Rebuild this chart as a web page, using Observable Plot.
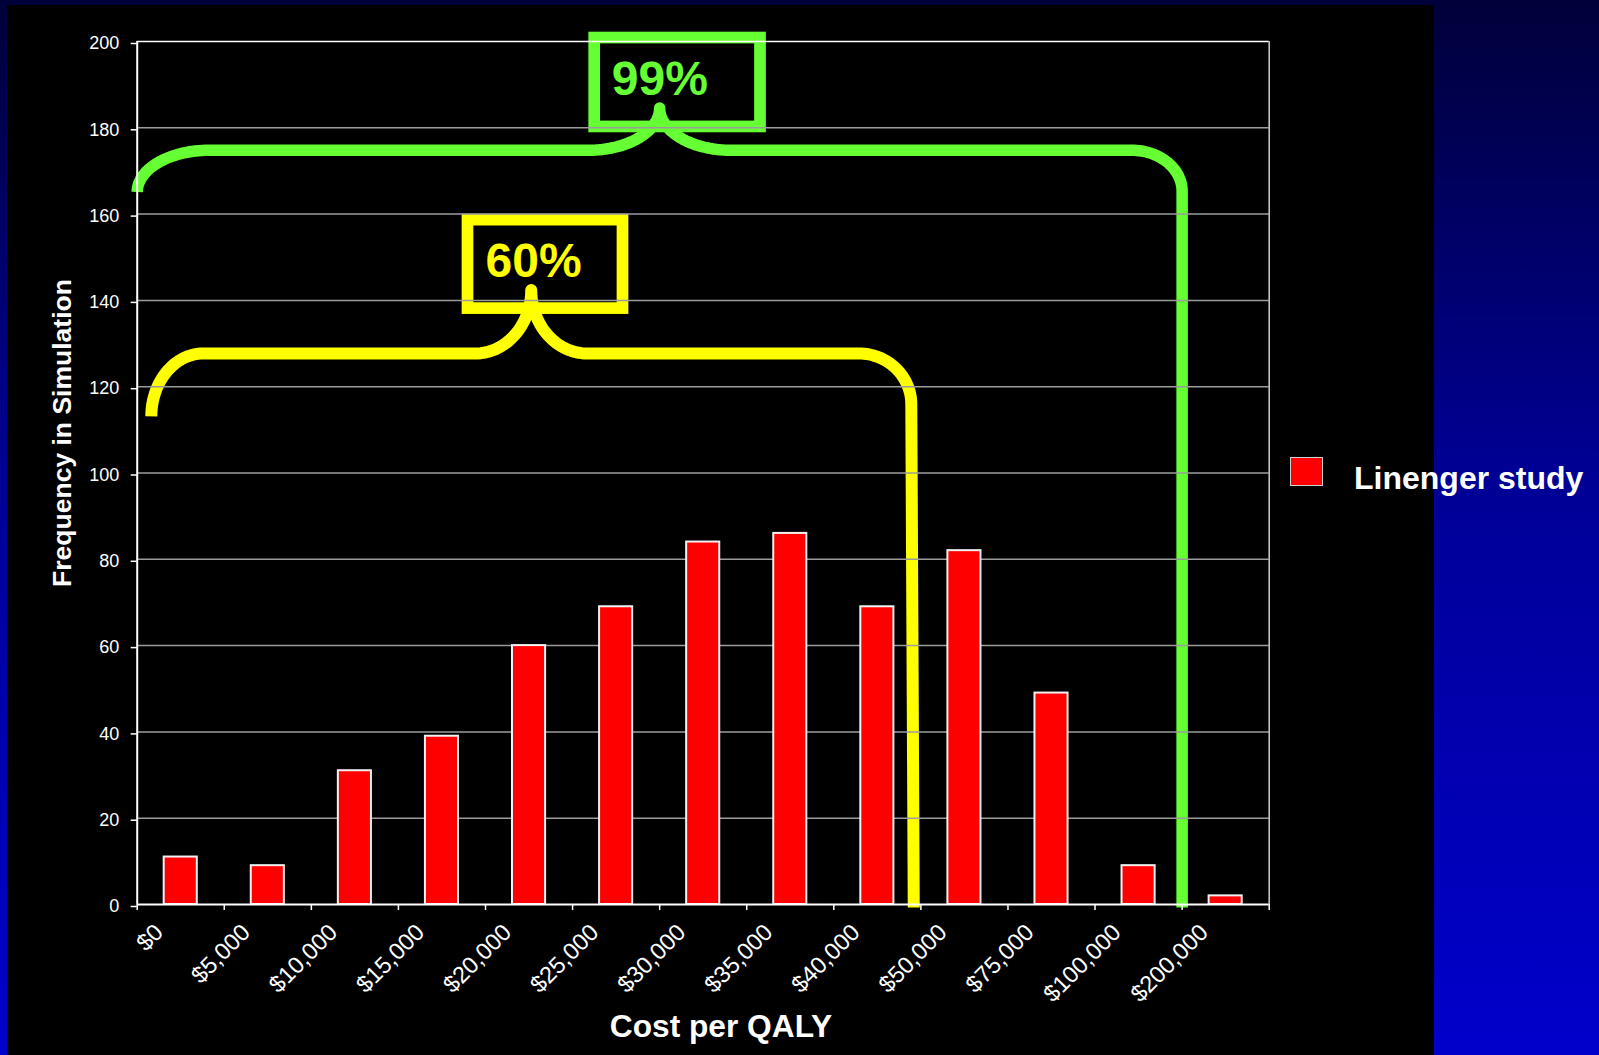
<!DOCTYPE html>
<html>
<head>
<meta charset="utf-8">
<title>Cost per QALY – Linenger study</title>
<script src="https://cdn.jsdelivr.net/npm/d3@7"></script>
<script src="https://cdn.jsdelivr.net/npm/@observablehq/plot@0.6"></script>
<style>
  html, body { margin: 0; padding: 0; }
  body {
    width: 1599px; height: 1055px; position: relative; overflow: hidden;
    background: linear-gradient(to bottom, #00003a 0%, #000095 45%, #0000cc 100%);
    font-family: "Liberation Sans", Arial, sans-serif; color: #fff;
  }
  #panel { position: absolute; left: 7px; top: 5px; width: 1427px; height: 1050px; background: #000; }
  #chart { position: absolute; left: 0; top: 0; }
  .title { position: absolute; font-weight: bold; white-space: nowrap; }
  #x-title { left: 721px; top: 1011px; font-size: 31.7px; line-height: 31.7px; transform: translateX(-50%); }
  #y-title { left: 62px; top: 433px; font-size: 26.5px; line-height: 26.5px; transform: translate(-50%, -50%) rotate(-90deg); }
  #legend-swatch { position: absolute; left: 1290px; top: 457px; width: 31px; height: 27px; background: #ff0000; border: 1px solid #d0d0d0; }
  #legend-label { position: absolute; left: 1354px; top: 462px; font-size: 32px; line-height: 32px; font-weight: bold; white-space: nowrap; }
</style>
</head>
<body>
<div id="panel"></div>
<div id="chart"></div>
<div id="x-title" class="title"></div>
<div id="y-title" class="title"></div>
<div id="legend-swatch"></div>
<div id="legend-label"></div>
<script>
// Cost-per-QALY bins and how many simulation runs fell in each
const categories = ["$0", "$5,000", "$10,000", "$15,000", "$20,000", "$25,000", "$30,000",
  "$35,000", "$40,000", "$50,000", "$75,000", "$100,000", "$200,000"];
const frequencies = [11, 9, 31, 39, 60, 69, 84, 86, 69, 82, 49, 9, 2];
const yTicks = [0, 20, 40, 60, 80, 100, 120, 140, 160, 180, 200];
const seriesName = "Linenger study";
const xTitle = "Cost per QALY";
const yTitle = "Frequency in Simulation";
const intervalLabels = ["99%", "60%"];

const bins = categories.map((category, index) => ({category, index, frequency: frequencies[index]}));

// Curly brace built from quarter-ellipse arcs, in data units (x: bin index, y: frequency)
function braceLine(b) {
  const pts = [];
  const arc = (cx, cy, rx, ry, a0, a1) => {
    for (let k = 0; k <= 32; k++) {
      const t = a0 + (a1 - a0) * k / 32;
      pts.push({x: cx + rx * Math.cos(t), y: cy + ry * Math.sin(t)});
    }
  };
  const h = b.yEnd + b.ryL;
  const apex = h + b.ryM;
  arc(b.x0 + b.rxL, b.yEnd, b.rxL, b.ryL, Math.PI, Math.PI / 2);
  arc(b.xm - b.rxM, apex, b.rxM, b.ryM, -Math.PI / 2, 0);
  arc(b.xm + b.rxM, apex, b.rxM, b.ryM, Math.PI, 1.5 * Math.PI);
  arc(b.x1 - b.rxR, h - b.ryR, b.rxR, b.ryR, Math.PI / 2, 0);
  pts.push({x: b.x1b, y: b.yBottom});
  return pts;
}

const green = "#66ff33", yellow = "#ffff00";

// 99% interval: $0 up to the $200,000 boundary
const braceOuter = braceLine({x0: 0, yEnd: 165.1, rxL: 0.827, ryL: 9.7, xm: 6, rxM: 0.815, ryM: 9.8,
  x1: 12, rxR: 0.58, ryR: 9.5, x1b: 12, yBottom: -0.7});
// 60% interval: $0 up to just short of the $50,000 boundary
const braceInner = braceLine({x0: 0.162, yEnd: 113.1, rxL: 0.597, ryL: 14.6, xm: 4.525, rxM: 0.643, ryM: 14.7,
  x1: 8.89, rxR: 0.603, ryR: 11.8, x1b: 8.918, yBottom: -0.7});

const labelBoxes = [
  {x1: 5.254, x2: 7.158, y1: 180.2, y2: 200.8, color: green},
  {x1: 3.799, x2: 5.579, y1: 138.1, y2: 158.6, color: yellow}
];
const labelTexts = [
  {x: 5.45, y: 187.5, text: intervalLabels[0], color: green},
  {x: 4.0, y: 145.5, text: intervalLabels[1], color: yellow}
];

const plot = Plot.plot({
  width: 1599,
  height: 1055,
  marginLeft: 136.7,
  marginRight: 330.3,
  marginTop: 41,
  marginBottom: 151,
  x: {domain: [0, categories.length]},
  y: {domain: [0, 200]},
  style: {background: "transparent", color: "white", fontFamily: "Liberation Sans, Arial, sans-serif", overflow: "visible"},
  marks: [
    // interval annotations
    Plot.line(braceOuter, {x: "x", y: "y", stroke: green, strokeWidth: 11.5, strokeLinejoin: "round", strokeLinecap: "butt"}),
    Plot.line(braceInner, {x: "x", y: "y", stroke: yellow, strokeWidth: 12, strokeLinejoin: "round", strokeLinecap: "butt"}),
    Plot.rect(labelBoxes, {x1: "x1", x2: "x2", y1: "y1", y2: "y2", fill: "none", stroke: d => d.color, strokeWidth: 11.7}),
    // gridlines and plot-area border
    Plot.ruleY(yTicks.filter(v => v > 0 && v < 200), {stroke: "#9c9c9c", strokeWidth: 1.5}),
    Plot.ruleY([200], {stroke: "#ffffff", strokeWidth: 1.5}),
    Plot.ruleX([categories.length], {stroke: "#cfcfcf", strokeWidth: 1.5}),
    // histogram bars
    Plot.rectY(bins, {x1: d => d.index + 0.31, x2: d => d.index + 0.69, y: "frequency", fill: "#ff0000", stroke: "#f2f2f2", strokeWidth: 2}),
    // axes
    Plot.ruleX([0], {stroke: "#ffffff", strokeWidth: 2}),
    Plot.ruleY([0], {stroke: "#ffffff", strokeWidth: 2}),
    Plot.axisY({ticks: yTicks, tickSize: 6, tickPadding: 12, fontSize: 18, color: "white", strokeWidth: 1.5, label: null, dy: 2}),
    Plot.axisX({ticks: d3.range(categories.length + 1), tickSize: 6, tickFormat: () => "", color: "white", strokeWidth: 1.5, label: null}),
    Plot.text(bins, {x: "index", y: 0, text: "category", rotate: -45, textAnchor: "end", lineAnchor: "middle",
      dx: 22, dy: 24, fill: "white", fontSize: 23.5}),
    // interval percentages
    Plot.text(labelTexts, {x: "x", y: "y", text: "text", fill: d => d.color, fontSize: 48, fontWeight: "bold",
      textAnchor: "start", lineAnchor: "bottom"})
  ]
});
document.getElementById("chart").appendChild(plot);
document.getElementById("x-title").textContent = xTitle;
document.getElementById("y-title").textContent = yTitle;
document.getElementById("legend-label").textContent = seriesName;
</script>
</body>
</html>
